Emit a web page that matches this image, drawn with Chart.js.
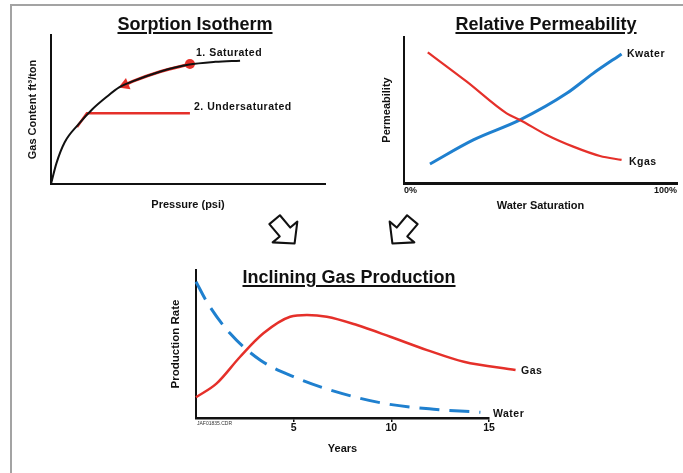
<!DOCTYPE html>
<html>
<head>
<meta charset="utf-8">
<title>Coalbed gas: sorption, permeability, production</title>
<script src="https://cdn.jsdelivr.net/npm/chart.js@4/dist/chart.umd.min.js"></script>
<style>
  body { margin:0; width:683px; height:473px; position:relative; overflow:hidden; background:#fff;
         font-family:"Liberation Sans", Arial, sans-serif; color:#111; }
  .frame { position:absolute; left:10px; top:4px; right:-4px; bottom:-4px;
           border-top:2px solid #a3a3a3; border-left:2px solid #a3a3a3; }
  .box { position:absolute; }
  .ttl { position:absolute; font-weight:bold; font-size:18px; line-height:20px; white-space:nowrap;
         text-decoration:underline; text-decoration-thickness:1.5px; text-underline-offset:2px;
         transform:translateX(-50%); }
  .lab { position:absolute; font-weight:bold; font-size:10.5px; line-height:12px; letter-spacing:0.5px; white-space:nowrap; }
  .tiny { position:absolute; font-size:5px; line-height:6px; color:#333; white-space:nowrap; }
  svg { position:absolute; left:0; top:0; }
</style>
</head>
<body>
<div class="frame"></div>

<div class="box" style="left:0;top:0"><canvas id="isoChart" width="340" height="220"></canvas></div>
<div class="box" style="left:340px;top:0"><canvas id="permChart" width="343" height="220"></canvas></div>
<div class="box" style="left:140px;top:250px"><canvas id="prodChart" width="420" height="215"></canvas></div>

<div class="ttl" style="left:195px;top:14px">Sorption Isotherm</div>
<div class="ttl" style="left:546px;top:14px">Relative Permeability</div>
<div class="ttl" style="left:349px;top:267px">Inclining Gas Production</div>

<div class="lab" style="left:196px;top:46px">1. Saturated</div>
<div class="lab" style="left:194px;top:100px">2. Undersaturated</div>
<div class="lab" style="left:627px;top:47px">Kwater</div>
<div class="lab" style="left:629px;top:155px">Kgas</div>
<div class="lab" style="left:521px;top:364px">Gas</div>
<div class="lab" style="left:493px;top:407px">Water</div>
<div class="tiny" style="left:197px;top:420px">JAF01835.CDR</div>

<svg width="683" height="473">
  <g transform="translate(285,232) rotate(-40) scale(1.15)">
    <polygon points="-6,-14 6,-14 6,0 14,0 0,13 -14,0 -6,0" fill="#fff" stroke="#111" stroke-width="1.8" stroke-linejoin="round"/>
  </g>
  <g transform="translate(402,232) rotate(40) scale(1.15)">
    <polygon points="-6,-14 6,-14 6,0 14,0 0,13 -14,0 -6,0" fill="#fff" stroke="#111" stroke-width="1.8" stroke-linejoin="round"/>
  </g>
</svg>

<script>
'use strict';

// sorption isotherm (pressure vs gas content, relative units 0-100)
let isoPressure = [0, 2, 5, 10, 15, 20, 25, 30, 40, 50, 60, 69];
let isoContent = [0, 14, 28, 40, 50, 58, 65, 69, 75.5, 80, 82, 82.8];
let satPressure = [27, 30, 40, 50.7];
let satContent = [66.5, 69, 75.5, 80.5];
let underPressure = [9.5, 13.1, 50.7];
let underContent = [38.3, 47.5, 47.5];

// relative permeability (water saturation %)
let gasSat = [8.7, 23, 37.6, 42.5, 52.3, 62, 71.8, 79.7];
let kGas = [89.5, 69.4, 47.7, 43.2, 32.9, 24.9, 18.5, 15.8];
let waterSat = [9.5, 25.4, 42.5, 59.6, 69.3, 79.7];
let kWater = [13, 29.5, 43.2, 61.4, 75.1, 88.4];
let satTicks = [0, 100];

// production over years (gas runs a little past the last tick)
let gasYears = [0, 1.06, 2.26, 3.45, 4.82, 5.68, 6.7, 8.24, 9.95, 11.83, 13.71, 16.36];
let gasRate = [14, 23.4, 41.4, 57.2, 68.4, 69.6, 68.4, 62.8, 54.9, 45.9, 38, 32.4];
let waterYears = [0, 0.55, 1.74, 3.28, 4.99, 6.87, 9.61, 12.17, 14.56];
let waterRate = [92.1, 78.6, 57.2, 39.2, 27.9, 18.9, 9.9, 5.9, 3.9];
let yearTicks = [5, 10, 15];

let red = '#e5302a';
let blue = '#1f80cf';
let ink = '#111';
let fontName = '"Liberation Sans", Arial, sans-serif';

function toPoints(xs, ys) {
  let pts = [];
  for (let i = 0; i < xs.length; i++) {
    pts.push({x: xs[i], y: ys[i]});
  }
  return pts;
}

function lineSet(xs, ys, color, width, extra) {
  let ds = {
    data: toPoints(xs, ys),
    borderColor: color,
    backgroundColor: color,
    borderWidth: width,
    pointRadius: 0,
    fill: false,
    cubicInterpolationMode: 'monotone',
    clip: false
  };
  return Object.assign(ds, extra || {});
}

// axis boxes get fixed sizes so the plot area lands where the picture has it
function xAxis(min, max, height, title, titlePad, extra) {
  let ax = {
    type: 'linear', min: min, max: max,
    grid: {display: false, drawTicks: false},
    border: {display: true, color: ink, width: 2},
    ticks: {display: false},
    title: {display: true, text: title, color: ink, padding: {top: 0, bottom: titlePad},
      font: {family: fontName, size: 11, weight: 'bold'}},
    afterFit: function(scale) { scale.height = height; }
  };
  return Object.assign(ax, extra || {});
}

function yAxis(width, title, titlePad, size) {
  return {
    type: 'linear', min: 0, max: 100,
    grid: {display: false, drawTicks: false},
    border: {display: true, color: ink, width: 2},
    ticks: {display: false},
    title: {display: true, text: title, color: ink, padding: {top: titlePad, bottom: 0},
      font: {family: fontName, size: size, weight: 'bold'}},
    afterFit: function(scale) { scale.width = width; }
  };
}

function baseOptions(padding, scales) {
  return {
    responsive: false,
    animation: false,
    events: [],
    layout: {padding: padding},
    plugins: {legend: {display: false}, tooltip: {enabled: false}},
    scales: scales
  };
}

new Chart(document.getElementById('isoChart'), {
  type: 'line',
  data: {
    datasets: [
      lineSet(isoPressure, isoContent, ink, 2),
      lineSet(underPressure, underContent, red, 2.5, {cubicInterpolationMode: 'default', tension: 0}),
      lineSet(satPressure, satContent, red, 3, {
        pointRadius: [7, 0, 0, 5],
        pointStyle: ['triangle', 'circle', 'circle', 'circle'],
        rotation: [248, 0, 0, 0],
        pointBorderWidth: 0
      })
    ]
  },
  options: baseOptions({left: 20, top: 35, right: 15, bottom: 4}, {
    x: xAxis(0, 100, 32, 'Pressure (psi)', 4),
    y: yAxis(31, 'Gas Content ft\u00b3/ton', 6, 11)
  })
});

new Chart(document.getElementById('permChart'), {
  type: 'line',
  data: {
    datasets: [
      lineSet(gasSat, kGas, red, 2.2),
      lineSet(waterSat, kWater, blue, 3)
    ]
  },
  options: baseOptions({left: 34, top: 37, right: 6, bottom: 4}, {
    x: xAxis(0, 100, 33, 'Water Saturation', 3, {
      border: {display: true, color: ink, width: 3},
      ticks: {display: true, color: ink, padding: 2, align: 'inner', maxRotation: 0,
        font: {family: fontName, size: 9, weight: 'bold'},
        callback: function(v) { return v + '%'; }},
      afterBuildTicks: function(scale) {
        scale.ticks = satTicks.map(function(v) { return {value: v}; });
      }
    }),
    y: yAxis(30, 'Permeability', 6, 11)
  })
});

new Chart(document.getElementById('prodChart'), {
  type: 'line',
  data: {
    datasets: [
      lineSet(gasYears, gasRate, red, 2.5),
      lineSet(waterYears, waterRate, blue, 3, {borderDash: [20, 10]})
    ]
  },
  options: baseOptions({left: 23, top: 20, right: 71, bottom: 4}, {
    x: xAxis(0, 15, 43, 'Years', 5, {
      border: {display: true, color: ink, width: 2.5},
      grid: {display: true, drawOnChartArea: false, drawTicks: true, tickLength: 4, color: ink, lineWidth: 1.5},
      ticks: {display: true, color: ink, padding: 0, maxRotation: 0,
        font: {family: fontName, size: 10.5, weight: 'bold'}},
      afterBuildTicks: function(scale) {
        scale.ticks = yearTicks.map(function(v) { return {value: v}; });
      }
    }),
    y: yAxis(33, 'Production Rate', 6, 11.5)
  })
});
</script>
</body>
</html>
